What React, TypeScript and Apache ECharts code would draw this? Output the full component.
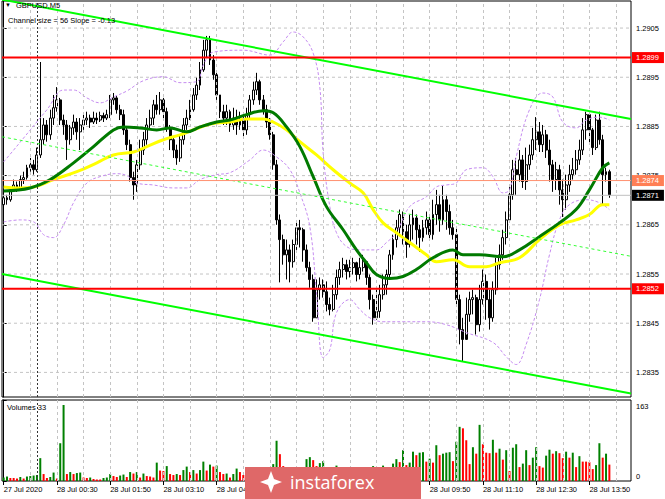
import React, { useEffect, useRef } from 'react';
import * as echarts from 'echarts';

// [open, close, low, high] per M5 bar, 27 Jul 23:10 -> 28 Jul 14:20
const candles: number[][] = [
  [1.28691, 1.28705, 1.28677, 1.28709], [1.28705, 1.28701, 1.28691, 1.28711], [1.28701, 1.28721, 1.28697, 1.28725],
  [1.28721, 1.28731, 1.28717, 1.28742], [1.28731, 1.28725, 1.28717, 1.28738], [1.28725, 1.28742, 1.28721, 1.2875],
  [1.28742, 1.28746, 1.28733, 1.28758], [1.28746, 1.28766, 1.28742, 1.28772], [1.28766, 1.28772, 1.28758, 1.28786],
  [1.28772, 1.28762, 1.28752, 1.28782], [1.28762, 1.28792, 1.28758, 1.28807], [1.28792, 1.28823, 1.28786, 1.28981],
  [1.28823, 1.28853, 1.28813, 1.28867], [1.28853, 1.28833, 1.28819, 1.28863], [1.28833, 1.28867, 1.28823, 1.28884],
  [1.28867, 1.28888, 1.28853, 1.28914], [1.28888, 1.28904, 1.2888, 1.2893], [1.28904, 1.28863, 1.28853, 1.28908],
  [1.28863, 1.28853, 1.28833, 1.28874], [1.28853, 1.28823, 1.28782, 1.28863], [1.28823, 1.28847, 1.28813, 1.28853],
  [1.28847, 1.28859, 1.28833, 1.28874], [1.28859, 1.28839, 1.28823, 1.28867], [1.28839, 1.28853, 1.28802, 1.28867],
  [1.28853, 1.28863, 1.28843, 1.28874], [1.28863, 1.28867, 1.28853, 1.2888], [1.28867, 1.28859, 1.28847, 1.28874],
  [1.28859, 1.28867, 1.28855, 1.2888], [1.28867, 1.28863, 1.28855, 1.28878], [1.28863, 1.28872, 1.28859, 1.2888],
  [1.28872, 1.28867, 1.28859, 1.28878], [1.28867, 1.28874, 1.28863, 1.28884], [1.28874, 1.28904, 1.28867, 1.28914],
  [1.28904, 1.28908, 1.28894, 1.28918], [1.28908, 1.28884, 1.28876, 1.28912], [1.28884, 1.28874, 1.28863, 1.28894],
  [1.28874, 1.28843, 1.28833, 1.28884], [1.28843, 1.28813, 1.28802, 1.28847], [1.28813, 1.28746, 1.28738, 1.28823],
  [1.28746, 1.28731, 1.28701, 1.28758], [1.28731, 1.28772, 1.28717, 1.28782], [1.28772, 1.28802, 1.28762, 1.28823],
  [1.28802, 1.28823, 1.28792, 1.28839], [1.28823, 1.28853, 1.28813, 1.28867], [1.28853, 1.28867, 1.28843, 1.28884],
  [1.28867, 1.28894, 1.28853, 1.28904], [1.28894, 1.28884, 1.28874, 1.28914], [1.28884, 1.28904, 1.28874, 1.2892],
  [1.28904, 1.2888, 1.28867, 1.28908], [1.2888, 1.28847, 1.28839, 1.28888], [1.28847, 1.28823, 1.28802, 1.28853],
  [1.28823, 1.28802, 1.28786, 1.28827], [1.28802, 1.28786, 1.28772, 1.28813], [1.28786, 1.28823, 1.28778, 1.28833],
  [1.28823, 1.28853, 1.28813, 1.28867], [1.28853, 1.28867, 1.28843, 1.28884], [1.28867, 1.28884, 1.28863, 1.28904],
  [1.28884, 1.28914, 1.2888, 1.28928], [1.28914, 1.28934, 1.28904, 1.28949], [1.28934, 1.28965, 1.28924, 1.28981],
  [1.28965, 1.29005, 1.28961, 1.29026], [1.29005, 1.29026, 1.28989, 1.29034], [1.29026, 1.28985, 1.28975, 1.29034],
  [1.28985, 1.28955, 1.28945, 1.28995], [1.28955, 1.28914, 1.28904, 1.28961], [1.28914, 1.2888, 1.28867, 1.28914],
  [1.2888, 1.28867, 1.28853, 1.28894], [1.28867, 1.2888, 1.28853, 1.28894], [1.2888, 1.28853, 1.28839, 1.28884],
  [1.28853, 1.28867, 1.28843, 1.28888], [1.28867, 1.28853, 1.28833, 1.28884], [1.28853, 1.28863, 1.28843, 1.2888],
  [1.28863, 1.28843, 1.28829, 1.28874], [1.28843, 1.28874, 1.28833, 1.28888], [1.28874, 1.28904, 1.28867, 1.28914],
  [1.28904, 1.28924, 1.28894, 1.28941], [1.28924, 1.28941, 1.28914, 1.28959], [1.28941, 1.28904, 1.28894, 1.28945],
  [1.28904, 1.28884, 1.28874, 1.28914], [1.28884, 1.28859, 1.28847, 1.28894], [1.28859, 1.28833, 1.28823, 1.28867],
  [1.28833, 1.28772, 1.28762, 1.28839], [1.28772, 1.2866, 1.2865, 1.28782], [1.2866, 1.2862, 1.28533, 1.28671],
  [1.2862, 1.28589, 1.28569, 1.2863], [1.28589, 1.28599, 1.28539, 1.2862], [1.28599, 1.28575, 1.28533, 1.2861],
  [1.28575, 1.2861, 1.28563, 1.2862], [1.2861, 1.28644, 1.28599, 1.28656], [1.28644, 1.2864, 1.28604, 1.2866],
  [1.2864, 1.28599, 1.28575, 1.28644], [1.28599, 1.28563, 1.28555, 1.2861], [1.28563, 1.28539, 1.28522, 1.28575],
  [1.28539, 1.28461, 1.28453, 1.28549], [1.28461, 1.28518, 1.28461, 1.28539], [1.28518, 1.28528, 1.28498, 1.28543],
  [1.28528, 1.28514, 1.28502, 1.28539], [1.28514, 1.28488, 1.28474, 1.28535], [1.28488, 1.28478, 1.28466, 1.28502],
  [1.28478, 1.28508, 1.28474, 1.28528], [1.28508, 1.28543, 1.28498, 1.28559], [1.28543, 1.28559, 1.28528, 1.28575],
  [1.28559, 1.28569, 1.28543, 1.28583], [1.28569, 1.28555, 1.28539, 1.28579], [1.28555, 1.28563, 1.28543, 1.28579],
  [1.28563, 1.28573, 1.28549, 1.28583], [1.28573, 1.28549, 1.28535, 1.28575], [1.28549, 1.28563, 1.28539, 1.28583],
  [1.28563, 1.28575, 1.28555, 1.28589], [1.28575, 1.28543, 1.28528, 1.28575], [1.28543, 1.28498, 1.28478, 1.28549],
  [1.28498, 1.28461, 1.28447, 1.28508], [1.28461, 1.28474, 1.28457, 1.28518], [1.28474, 1.28508, 1.28461, 1.28528],
  [1.28508, 1.28528, 1.28498, 1.28549], [1.28528, 1.28549, 1.28508, 1.28559], [1.28549, 1.28589, 1.28539, 1.28599],
  [1.28589, 1.2862, 1.28579, 1.2863], [1.2862, 1.28644, 1.28604, 1.2866], [1.28644, 1.28671, 1.2863, 1.28681],
  [1.28671, 1.28636, 1.2861, 1.28677], [1.28636, 1.2861, 1.28583, 1.2865], [1.2861, 1.2865, 1.28604, 1.28671],
  [1.2865, 1.28664, 1.2862, 1.28681], [1.28664, 1.2864, 1.2861, 1.28671], [1.2864, 1.28624, 1.28595, 1.2865],
  [1.28624, 1.28644, 1.28616, 1.2866], [1.28644, 1.2866, 1.2863, 1.28677], [1.2866, 1.2863, 1.2862, 1.28671],
  [1.2863, 1.28671, 1.2862, 1.28701], [1.28671, 1.28691, 1.2865, 1.28721], [1.28691, 1.2866, 1.28636, 1.28711],
  [1.2866, 1.28701, 1.2865, 1.28729], [1.28701, 1.28677, 1.2864, 1.28711], [1.28677, 1.28644, 1.2863, 1.28691],
  [1.28644, 1.2863, 1.2862, 1.2866], [1.2863, 1.28498, 1.28488, 1.28644], [1.28498, 1.28437, 1.28407, 1.28508],
  [1.28437, 1.28417, 1.28372, 1.28461], [1.28417, 1.28468, 1.28427, 1.28502], [1.28468, 1.28498, 1.28453, 1.28514],
  [1.28498, 1.28502, 1.28468, 1.28518], [1.28502, 1.28447, 1.28427, 1.28508], [1.28447, 1.28498, 1.28433, 1.28528],
  [1.28498, 1.28535, 1.28488, 1.28559], [1.28535, 1.28498, 1.28457, 1.28549], [1.28498, 1.28461, 1.28437, 1.28518],
  [1.28461, 1.28518, 1.28453, 1.28535], [1.28518, 1.28569, 1.28508, 1.28583], [1.28569, 1.28589, 1.28559, 1.2861],
  [1.28589, 1.28624, 1.28579, 1.2864], [1.28624, 1.2866, 1.2861, 1.28677], [1.2866, 1.28711, 1.28656, 1.28731],
  [1.28711, 1.28762, 1.28701, 1.28782], [1.28762, 1.28752, 1.28711, 1.28786], [1.28752, 1.28782, 1.28738, 1.28802],
  [1.28782, 1.28738, 1.28725, 1.28792], [1.28738, 1.28772, 1.28721, 1.28807], [1.28772, 1.28792, 1.28762, 1.28813],
  [1.28792, 1.28823, 1.28782, 1.28847], [1.28823, 1.28839, 1.28802, 1.28869], [1.28839, 1.28813, 1.28798, 1.28859],
  [1.28813, 1.28833, 1.28798, 1.28853], [1.28833, 1.28802, 1.28786, 1.28843], [1.28802, 1.28772, 1.28738, 1.28823],
  [1.28772, 1.28742, 1.28717, 1.28782], [1.28742, 1.28762, 1.28721, 1.28778], [1.28762, 1.28721, 1.28691, 1.28772],
  [1.28721, 1.28701, 1.28666, 1.28742], [1.28701, 1.28731, 1.28681, 1.28752], [1.28731, 1.28752, 1.28717, 1.28772],
  [1.28752, 1.28762, 1.28742, 1.28786], [1.28762, 1.28782, 1.28752, 1.28802], [1.28782, 1.28802, 1.28772, 1.28823],
  [1.28802, 1.28843, 1.28792, 1.28867], [1.28843, 1.28874, 1.28823, 1.2888], [1.28874, 1.28843, 1.28813, 1.28874],
  [1.28843, 1.28807, 1.28792, 1.28847], [1.28807, 1.28863, 1.28802, 1.28874], [1.28863, 1.28823, 1.28813, 1.2888],
  [1.28823, 1.28752, 1.28691, 1.28833], [1.28752, 1.28758, 1.28738, 1.28766], [1.28758, 1.28711, 1.28705, 1.28762],
];

const volumes = [
  7, 9, 6, 6, 5, 8, 5, 9, 10, 11, 12, 46, 14, 6, 8, 17, 5, 76, 153, 14,
  18, 14, 16, 17, 7, 6, 7, 4, 3, 3, 6, 7, 14, 10, 8, 11, 13, 8, 18, 15,
  18, 7, 15, 10, 9, 7, 37, 21, 20, 30, 14, 12, 14, 12, 22, 29, 18, 22, 15, 22,
  39, 21, 33, 29, 31, 18, 14, 15, 7, 14, 25, 18, 12, 16, 12, 10, 8, 12, 15, 20,
  22, 34, 81, 54, 30, 25, 20, 22, 18, 20, 25, 44, 48, 42, 30, 36, 40, 20, 15, 20,
  31, 20, 15, 18, 12, 16, 14, 10, 8, 18, 25, 30, 20, 18, 31, 25, 20, 35, 44, 38,
  62, 32, 37, 59, 52, 57, 58, 39, 45, 37, 72, 52, 55, 57, 58, 40, 79, 109, 106, 82,
  34, 68, 55, 113, 74, 57, 56, 83, 57, 65, 43, 62, 20, 67, 74, 28, 35, 62, 32, 47,
  68, 30, 27, 51, 63, 55, 60, 56, 46, 59, 47, 57, 28, 50, 39, 39, 38, 24, 32, 76,
  47, 55, 33,
];

// time labels every 16 bars; the ones hidden under the watermark in the reference are empty
const timeLabels = [
  '27 Jul 2020', '28 Jul 00:30', '28 Jul 01:50', '28 Jul 03:10', '28 Jul 04:30', '',
  '', '', '28 Jul 09:50', '28 Jul 11:10', '28 Jul 12:30', '28 Jul 13:50',
];
const priceTicks = [1.2835, 1.2845, 1.2855, 1.2865, 1.2875, 1.2885, 1.2895, 1.2905];
const volumeTicks = [0, 163];

// [bar index, price]
const greenMA = [
  [0, 1.28719], [8, 1.28725], [14, 1.28742], [21, 1.28776], [27, 1.28809], [33, 1.28843], [36, 1.28849],
  [41, 1.28847], [46, 1.28843], [50, 1.28847], [55, 1.28839], [59, 1.28849], [64, 1.28859], [68, 1.28863],
  [73, 1.28874], [78, 1.28882], [81, 1.28878], [85, 1.28849], [89, 1.28809], [93, 1.28748], [97, 1.28687],
  [102, 1.2864], [106, 1.28599], [109, 1.28573], [112, 1.28549], [116, 1.28541], [120, 1.28545], [124, 1.28559],
  [129, 1.28583], [135, 1.28599], [138, 1.28589], [143, 1.28589], [150, 1.28585], [155, 1.28599], [161, 1.28626],
  [167, 1.28654], [172, 1.28681], [176, 1.28721], [180, 1.28766], [182, 1.28776],
];
const yellowMA = [
  [0, 1.28727], [5, 1.28725], [9, 1.28727], [15, 1.28742], [22, 1.28758], [28, 1.28776], [33, 1.28792],
  [39, 1.28798], [43, 1.28809], [48, 1.28823], [53, 1.28833], [57, 1.28843], [61, 1.28853], [64, 1.28857],
  [68, 1.28859], [73, 1.28865], [78, 1.28865], [81, 1.28859], [85, 1.28843], [89, 1.28819], [94, 1.28792],
  [99, 1.28762], [104, 1.28735], [108, 1.28715], [111, 1.28681], [114, 1.28654], [118, 1.28634], [122, 1.28614],
  [127, 1.28589], [130, 1.28575], [135, 1.28579], [140, 1.28565], [145, 1.28565], [149, 1.28573], [155, 1.28583],
  [161, 1.2862], [167, 1.2865], [172, 1.2866], [176, 1.28671], [180, 1.28691], [182, 1.28691],
];
const bandUpper = [
  [0, 1.28778], [3, 1.28802], [8, 1.28843], [13, 1.28884], [18, 1.28924], [21, 1.28924], [25, 1.28908],
  [29, 1.28898], [33, 1.2891], [37, 1.28922], [42, 1.28943], [48, 1.28951], [53, 1.28939], [58, 1.28941],
  [60, 1.28975], [63, 1.29001], [72, 1.29005], [80, 1.28995], [84, 1.29022], [87, 1.29042], [90, 1.29032],
  [93, 1.28999], [95, 1.2893], [96, 1.28796], [98, 1.28687], [100, 1.28634], [103, 1.28606], [107, 1.28599],
  [112, 1.28599], [115, 1.28614], [118, 1.28634], [122, 1.28687], [127, 1.28707], [130, 1.28727], [133, 1.28731],
  [136, 1.28735], [139, 1.28762], [144, 1.28766], [147, 1.28748], [150, 1.28715], [152, 1.28721], [154, 1.28788],
  [158, 1.28884], [162, 1.28918], [165, 1.2891], [168, 1.28859], [172, 1.28847], [175, 1.28863], [179, 1.28869],
  [182, 1.28863],
];
const bandLower = [
  [0, 1.28656], [5, 1.2866], [9, 1.28656], [12, 1.2863], [15, 1.28624], [18, 1.2865], [21, 1.28695],
  [25, 1.28735], [29, 1.28748], [34, 1.28754], [37, 1.2875], [40, 1.28735], [45, 1.28731], [51, 1.28725],
  [55, 1.28725], [59, 1.28742], [64, 1.28752], [68, 1.28756], [74, 1.28782], [78, 1.28802], [82, 1.28788],
  [86, 1.28762], [89, 1.28715], [92, 1.28646], [94, 1.28512], [96, 1.2838], [98, 1.28396], [100, 1.28471],
  [104, 1.28498], [107, 1.28478], [110, 1.28461], [114, 1.28453], [120, 1.28453], [127, 1.28453], [133, 1.28447],
  [139, 1.28431], [147, 1.28411], [151, 1.28382], [154, 1.28366], [157, 1.28407], [161, 1.28498], [164, 1.28589],
  [167, 1.2866], [170, 1.28691], [175, 1.28701], [179, 1.28695], [182, 1.28681],
];
const channelTop = [[-0.5, 1.29108], [188.5, 1.28865]];
const channelMid = [[-0.5, 1.28829], [188.5, 1.28586]];
const channelBottom = [[-0.5, 1.2855], [188.5, 1.28307]];

const resistanceLevel = 1.2899;
const supportLevel = 1.2852;
const orangeLevel = 1.2874;
const bidLevel = 1.2871;

const SLOTS = 189;
const FONT = '"Liberation Sans", Arial, sans-serif';
const FS = 7.5;

export default function App() {
  const ref = useRef<HTMLDivElement>(null);
  useEffect(() => {
    if (!ref.current) return;
    const chart = echarts.init(ref.current, null, { renderer: 'svg' });
    const cats = Array.from({ length: SLOTS }, (_, i) => String(i));
    const vGrid: number[] = [];
    for (let i = 8; i < SLOTS; i += 8) vGrid.push(i);
    const separator = 10;
    const labelInterval = (index: number) => index % 16 === 0 && index / 16 < timeLabels.length;
    const tickInterval = (index: number) => labelInterval(index) && timeLabels[index / 16] !== '';
    const gridStyle = { color: '#c4c4c4', type: [3, 3] as any, width: 1 };
    const sepStyle = { color: '#333', type: [2, 2] as any, width: 1 };

    const hLine = (name: string, v: number, lineStyle: any, z: number, endLabel?: any) => ({
      name, type: 'line', xAxisIndex: 2, yAxisIndex: 0, silent: true, showSymbol: false, symbol: 'none', z,
      data: [[-0.5, v], [SLOTS - 0.5, v]], lineStyle, ...(endLabel ? { endLabel } : {}),
    });
    const lvl = (name: string, v: number, color: string, width: number, bg: string, z: number) =>
      hLine(name, v, { color, width }, z, {
        show: true, formatter: v.toFixed(4), color: '#fff', backgroundColor: bg, distance: 1,
        fontSize: FS, fontFamily: FONT, padding: [2, 5, 1, 4],
      });

    const option: any = {
      animation: false,
      backgroundColor: '#fff',
      textStyle: { fontFamily: FONT },
      grid: [
        { left: 2, top: 1, width: 629, height: 396, show: true, borderColor: '#000', borderWidth: 1 },
        { left: 2, top: 400, width: 629, height: 81, show: true, borderColor: '#000', borderWidth: 1 },
      ],
      xAxis: [
        { type: 'category', gridIndex: 0, data: cats, axisLine: { show: false }, axisTick: { show: false },
          axisLabel: { show: false }, splitLine: { show: false } },
        { type: 'category', gridIndex: 1, data: cats, axisLine: { show: false },
          axisTick: { show: true, alignWithLabel: true, interval: tickInterval, length: 4, lineStyle: { color: '#000' } },
          axisLabel: { interval: labelInterval, formatter: (_v: string, idx: number) => timeLabels[idx / 16] ?? '',
            align: 'left', fontSize: FS, color: '#000', margin: 4, fontFamily: FONT },
          splitLine: { show: false } },
        { type: 'value', gridIndex: 0, min: -0.5, max: SLOTS - 0.5, show: false, splitLine: { show: false } },
        { type: 'value', gridIndex: 1, min: -0.5, max: SLOTS - 0.5, show: false, splitLine: { show: false } },
      ],
      yAxis: [
        { type: 'value', gridIndex: 0, position: 'right', min: 1.283, max: 1.29105,
          axisLine: { show: true, lineStyle: { color: '#000' } },
          axisTick: { show: true, customValues: priceTicks, length: 3, lineStyle: { color: '#000' } },
          axisLabel: { customValues: priceTicks, formatter: (v: number) => v.toFixed(4), fontSize: FS,
            color: '#000', margin: 5, fontFamily: FONT },
          splitLine: { show: false } },
        { type: 'value', gridIndex: 1, position: 'right', min: 0, max: 163,
          axisLine: { show: true, lineStyle: { color: '#000' } },
          axisTick: { show: true, customValues: volumeTicks, length: 3, lineStyle: { color: '#000' } },
          axisLabel: { customValues: volumeTicks, fontSize: FS, color: '#000', margin: 5, fontFamily: FONT,
            formatter: (v: number) => (v === 0 ? '{lo|0}' : '{hi|' + v + '}'),
            rich: { lo: { fontSize: FS, fontFamily: FONT, color: '#000', padding: [0, 0, 10, 0] },
                    hi: { fontSize: FS, fontFamily: FONT, color: '#000', padding: [12, 0, 0, 0] } } },
          splitLine: { show: false } },
      ],
      series: [
        ...priceTicks.map((v) => hLine('grid' + v, v, gridStyle, 1)),
        { name: 'gridMainV', type: 'line', xAxisIndex: 2, yAxisIndex: 0, data: [[0, 1.287], [1, 1.287]], z: 1, silent: true,
          showSymbol: false, lineStyle: { opacity: 0 },
          markLine: { symbol: 'none', silent: true, label: { show: false }, lineStyle: gridStyle, animation: false,
            data: [...vGrid.map((i) => ({ xAxis: i })), { xAxis: separator, lineStyle: sepStyle }] } },
        { name: 'gridVol', type: 'line', xAxisIndex: 3, yAxisIndex: 1, data: [[0, 0], [1, 0]], z: 1, silent: true,
          showSymbol: false, lineStyle: { opacity: 0 },
          markLine: { symbol: 'none', silent: true, label: { show: false }, lineStyle: gridStyle, animation: false,
            data: [...vGrid.map((i) => ({ xAxis: i })), { xAxis: separator, lineStyle: sepStyle }] } },
        { name: 'GBPUSD', type: 'candlestick', xAxisIndex: 0, yAxisIndex: 0, data: candles, barWidth: 2.4, z: 2,
          itemStyle: { color: '#fff', color0: '#000', borderColor: '#000', borderColor0: '#000', borderWidth: 1 } },
        { name: 'bandUpper', type: 'line', xAxisIndex: 2, yAxisIndex: 0, data: bandUpper, smooth: 0.4, showSymbol: false,
          z: 3, lineStyle: { color: '#c58cf0', width: 1, type: [3, 2] } },
        { name: 'bandLower', type: 'line', xAxisIndex: 2, yAxisIndex: 0, data: bandLower, smooth: 0.4, showSymbol: false,
          z: 3, lineStyle: { color: '#c58cf0', width: 1, type: [3, 2] } },
        { name: 'yellowMA', type: 'line', xAxisIndex: 2, yAxisIndex: 0, data: yellowMA, smooth: 0.4, showSymbol: false,
          z: 4, lineStyle: { color: '#ffff00', width: 3 } },
        { name: 'greenMA', type: 'line', xAxisIndex: 2, yAxisIndex: 0, data: greenMA, smooth: 0.4, showSymbol: false,
          z: 5, lineStyle: { color: '#007a00', width: 3 } },
        { name: 'channelTop', type: 'line', xAxisIndex: 2, yAxisIndex: 0, data: channelTop, showSymbol: false, z: 6,
          lineStyle: { color: '#00ff00', width: 2 } },
        { name: 'channelBottom', type: 'line', xAxisIndex: 2, yAxisIndex: 0, data: channelBottom, showSymbol: false, z: 6,
          lineStyle: { color: '#00ff00', width: 2 } },
        { name: 'channelMid', type: 'line', xAxisIndex: 2, yAxisIndex: 0, data: channelMid, showSymbol: false, z: 6,
          lineStyle: { color: '#33ff33', width: 1, type: [3, 3] } },
        lvl('bid', bidLevel, '#c0c0c0', 1, '#000', 7),
        lvl('orange', orangeLevel, '#ff9070', 1, '#ff7f55', 8),
        lvl('resistance', resistanceLevel, '#ff0000', 2, '#ff0000', 8),
        lvl('support', supportLevel, '#ff0000', 2, '#ff0000', 8),
        { name: 'Volumes', type: 'bar', xAxisIndex: 1, yAxisIndex: 1, barWidth: 2, z: 2,
          data: volumes.map((v, i) => ({ value: v,
            itemStyle: { color: i === 0 || v > volumes[i - 1] ? '#008000' : '#ff0000' } })) },
      ],
      graphic: [
        { type: 'text', left: 5, top: 2, z: 50, style: { text: '▼', fontSize: 6, fill: '#000' } },
        { type: 'text', left: 16, top: 1, z: 50, style: { text: 'GBPUSD,M5', fontSize: FS, fontFamily: FONT, fill: '#000' } },
        { type: 'text', left: 8, top: 16, z: 50, style: { text: 'Channel size = 56 Slope = -0.13', fontSize: FS, fontFamily: FONT, fill: '#000' } },
        { type: 'text', left: 7, top: 403, z: 50, style: { text: 'Volumes 33', fontSize: FS, fontFamily: FONT, fill: '#000' } },
        { type: 'rect', z: 100, shape: { x: 245, y: 467, width: 176, height: 32 }, style: { fill: '#df6868' } },
        { type: 'polygon', z: 101, shape: { points: [[271, 471], [274, 479], [282, 482], [274, 485], [271, 493], [268, 485], [260, 482], [268, 479]] },
          style: { fill: '#fff' } },
        { type: 'text', z: 101, style: { x: 290, y: 482, text: 'instaforex', fontSize: 18, fontFamily: '"Open Sans", sans-serif',
          fill: '#fff', textVerticalAlign: 'middle', verticalAlign: 'middle' } },
      ],
    };
    chart.setOption(option);
    return () => chart.dispose();
  }, []);
  return <div ref={ref} style={{ position: 'fixed', left: 0, top: 0, width: 665, height: 499, background: '#fff' }} />;
}
